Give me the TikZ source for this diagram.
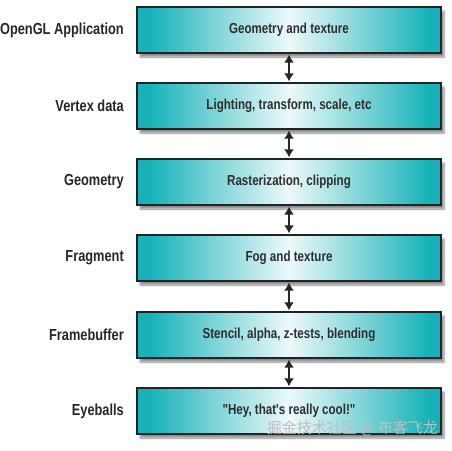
\documentclass[tikz,border=0pt]{standalone}
\usepackage{fontspec}
\setmainfont{Liberation Sans}[FakeStretch=0.8, Ligatures=TeXOff]
\newfontfamily\cjk{Noto Sans CJK SC}
\usetikzlibrary{arrows.meta,shadows.blur}
\definecolor{tealc}{RGB}{22,178,184}
\definecolor{edgec}{RGB}{30,36,40}
\pgfdeclarehorizontalshading{boxshade}{100bp}{color(0bp)=(tealc); color(27bp)=(tealc); color(38bp)=(tealc!55!white); color(50bp)=(white!92!tealc); color(62bp)=(tealc!55!white); color(73bp)=(tealc); color(100bp)=(tealc)}
\begin{document}
\begin{tikzpicture}[x=1pt,y=-1pt,
  stagebox/.style={draw=edgec, line width=1.3pt, shading=boxshade,
    minimum width=304pt, minimum height=46pt, inner sep=0pt,
    font=\bfseries\fontsize{14.5}{16}\selectfont, text=black!82,
    blur shadow={shadow xshift=3pt, shadow yshift=-4pt, shadow blur steps=6, shadow opacity=45}},
  stagelabel/.style={anchor=east, inner sep=0pt, font=\bfseries\fontsize{16}{18}\selectfont, text=black!85},
  link/.style={{Latex[length=8pt,width=10pt]}-{Latex[length=8pt,width=10pt]}, line width=2.4pt, black!85, shorten <=1pt, shorten >=1pt}]
\useasboundingbox (0,0) rectangle (452,450);
\node[stagebox] (b1) at (289,30) {Geometry and texture};
\node[stagebox] (b2) at (289,106) {Lighting, transform, scale, etc};
\node[stagebox] (b3) at (289,182) {Rasterization, clipping};
\node[stagebox] (b4) at (289,258) {Fog and texture};
\node[stagebox] (b5) at (289,335) {Stencil, alpha, z-tests, blending};
\node[stagebox] (b6) at (289,411) {"Hey, that's really cool!"};
\node[stagelabel] (l1) at (124,30) {OpenGL Application};
\node[stagelabel] (l2) at (124,106) {Vertex data};
\node[stagelabel] (l3) at (124,182) {Geometry};
\node[stagelabel] (l4) at (124,258) {Fragment};
\node[stagelabel] (l5) at (124,335) {Framebuffer};
\node[stagelabel] (l6) at (124,411) {Eyeballs};
\foreach \a/\b in {b1/b2,b2/b3,b3/b4,b4/b5,b5/b6}
  \draw[link] (\a.south) -- (\b.north);
\node[anchor=base east, inner sep=0pt, font=\cjk\fontsize{15}{17}\selectfont, text=gray!50!white] (wm) at (438,433) {掘金技术社区 @ 布客飞龙};
\end{tikzpicture}
\end{document}
